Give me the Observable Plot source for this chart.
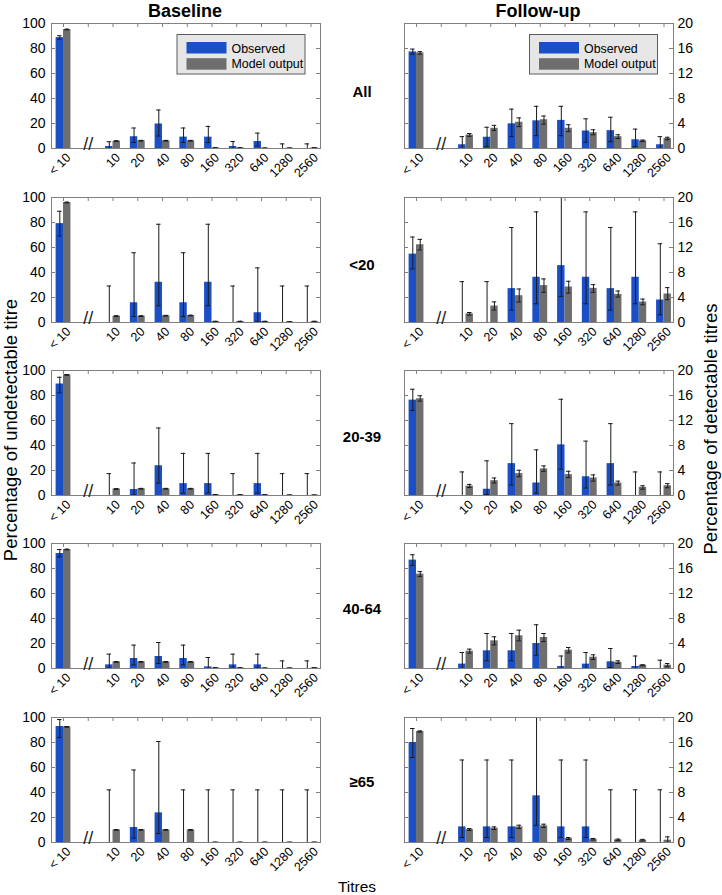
<!DOCTYPE html>
<html><head><meta charset="utf-8">
<script src="https://cdn.jsdelivr.net/npm/d3@7"></script>
<script src="https://cdn.jsdelivr.net/npm/@observablehq/plot@0.6"></script>
<style>
body{margin:0;background:#fff;}
#fig{position:relative;width:722px;height:895px;overflow:hidden;background:#fff;font-family:"Liberation Sans",Arial,sans-serif;}
</style></head><body><div id="fig"></div><script>
// ---------- data ----------
const titres = ["10","20","40","80","160","320","640","1280","2560"];
const undetLabel = "< 10";
const groups = ["All","<20","20-39","40-64","\u226565"];
const periods = ["Baseline","Follow-up"];
const legendLabels = ["Observed","Model output"];
const yTicksBaseline = [0,20,40,60,80,100];
const yTicksFollowup = [0,4,8,12,16,20];
const leftAxisTitle = "Percentage of undetectable titre";
const rightAxisTitle = "Percentage of detectable titres";
const xAxisTitle = "Titres";

// Baseline (%): [<10, 10, 20, 40, 80, 160, 320, 640, 1280, 2560], rows = groups
const baselineObs = [
 [88.7, 1.6, 9.4, 19.6, 9.1, 9.1, 1.6, 5.6, 0, 0],
 [79.1, 0, 15.8, 32.2, 15.8, 32.2, 0, 7.8, 0, 0],
 [89.2, 0, 4.8, 23.8, 9.5, 9.5, 0, 9.5, 0, 0],
 [92.0, 2.9, 8.0, 9.6, 8.0, 1.3, 2.9, 2.9, 0, 0],
 [92.8, 0, 12.0, 23.7, 0, 0, 0, 0, 0, 0]
];
const baselineObsLo = [
 [87.5, 0, 4.8, 10.0, 4.8, 4.8, 0, 2.0, 0, 0],
 [69.2, 0, 4.8, 13.4, 4.8, 13.4, 0, 1.0, 0, 0],
 [82.2, 0, 0.5, 10.0, 2.0, 2.0, 0, 2.0, 0, 0],
 [89.3, 0.3, 2.9, 4.0, 2.9, 0, 0.3, 0.3, 0, 0],
 [84.0, 0, 3.5, 7.2, 0, 0, 0, 0, 0, 0]
];
const baselineObsHi = [
 [90.2, 5.4, 16.4, 30.8, 16.4, 17.7, 5.6, 12.3, 3.7, 3.7],
 [89.0, 29.2, 55.8, 78.6, 55.8, 78.6, 29.2, 43.7, 29.2, 29.2],
 [94.6, 17.5, 26.0, 54.0, 33.7, 33.7, 17.5, 33.7, 17.5, 17.5],
 [95.2, 11.5, 18.7, 20.8, 18.7, 8.8, 11.5, 11.5, 6.1, 6.1],
 [98.4, 42.1, 58.0, 80.8, 42.1, 42.1, 42.1, 42.1, 42.1, 42.1]
];
const baselineMod = [
 [95.2, 5.9, 6.2, 6.2, 6.2, 0.5, 0.5, 0.3, 0.3, 0.5],
 [96.0, 5.1, 5.1, 5.4, 5.6, 0.8, 0.8, 0.8, 0.5, 0.8],
 [96.5, 5.2, 5.4, 5.4, 5.4, 0.6, 0.5, 0.5, 0.3, 0.3],
 [95.2, 5.3, 5.3, 5.3, 5.3, 0.5, 0.5, 0.3, 0.3, 0.5],
 [92.5, 10.1, 10.1, 10.1, 10.1, 0.2, 0.2, 0.2, 0.2, 0.2]
];
const baselineModLo = [
 [94.9, 5.6, 5.9, 5.9, 5.9, 0.3, 0.3, 0.1, 0.1, 0.3],
 [95.7, 4.8, 4.8, 5.1, 5.3, 0.6, 0.6, 0.6, 0.3, 0.6],
 [96.2, 4.9, 5.1, 5.1, 5.1, 0.4, 0.3, 0.3, 0.1, 0.1],
 [94.9, 5.0, 5.0, 5.0, 5.0, 0.3, 0.3, 0.1, 0.1, 0.3],
 [92.2, 9.8, 9.8, 9.8, 9.8, 0.1, 0.1, 0.1, 0.1, 0.1]
];
const baselineModHi = [
 [95.5, 6.2, 6.5, 6.5, 6.5, 0.7, 0.7, 0.5, 0.5, 0.7],
 [96.3, 5.4, 5.4, 5.7, 5.9, 1.0, 1.0, 1.0, 0.7, 1.0],
 [96.8, 5.5, 5.7, 5.7, 5.7, 0.8, 0.7, 0.7, 0.5, 0.5],
 [95.5, 5.6, 5.6, 5.6, 5.6, 0.7, 0.7, 0.5, 0.5, 0.7],
 [92.8, 10.4, 10.4, 10.4, 10.4, 0.3, 0.3, 0.3, 0.3, 0.3]
];

// Follow-up: first value = % undetectable (0–100), others = % detectable (0–20 axis)
const followupObs = [
 [77.3, 0.6, 1.8, 3.95, 4.43, 4.5, 2.8, 2.86, 1.4, 0.6],
 [54.7, 0, 0, 5.42, 7.24, 9.1, 7.24, 5.42, 7.24, 3.6],
 [76.3, 0, 1.0, 5.1, 2.0, 8.1, 3.0, 5.1, 0, 0],
 [86.7, 0.7, 2.83, 2.83, 4.0, 0.32, 0.7, 1.07, 0.32, 0],
 [80.0, 2.5, 2.5, 2.5, 7.47, 2.5, 2.5, 0, 0, 0]
];
const followupObsLo = [
 [75.5, 0, 0.3, 1.9, 2.05, 2.05, 1.0, 1.1, 0.3, 0],
 [42.9, 0, 0, 1.98, 3.0, 4.18, 3.0, 1.98, 3.0, 1.23],
 [68.0, 0, 0.16, 1.67, 0.4, 4.2, 1.2, 1.67, 0, 0],
 [82.5, 0, 1.23, 1.23, 2.13, 0, 0, 0.16, 0, 0],
 [68.0, 0.8, 0.8, 0.8, 2.77, 0.8, 0.8, 0, 0, 0]
];
const followupObsHi = [
 [79.5, 1.9, 3.4, 6.3, 6.75, 6.75, 4.75, 5.0, 3.1, 1.9],
 [68.4, 6.54, 6.54, 15.2, 17.7, 21, 17.7, 15.2, 17.7, 12.6],
 [85.0, 3.77, 5.55, 11.5, 7.3, 15.4, 8.7, 11.5, 3.77, 3.77],
 [91.0, 2.56, 5.6, 5.6, 7.0, 2.0, 2.56, 3.2, 2.0, 1.33],
 [91.2, 13.2, 13.2, 13.2, 21, 13.2, 13.2, 8.43, 8.43, 8.43]
];
const followupMod = [
 [76.5, 2.16, 3.24, 4.2, 4.6, 3.24, 2.54, 1.9, 1.24, 1.6],
 [62.2, 1.39, 2.63, 4.29, 5.9, 5.68, 5.47, 4.5, 3.27, 4.56],
 [77.4, 1.5, 2.37, 3.5, 4.26, 3.34, 2.8, 2.0, 1.3, 1.56],
 [75.5, 2.77, 4.43, 5.23, 4.96, 2.93, 1.81, 1.0, 0.53, 0.53],
 [88.8, 2.08, 2.29, 2.5, 2.67, 0.64, 0.53, 0.43, 0.37, 0.37]
];
const followupModLo = [
 [75.5, 1.95, 2.9, 3.5, 3.9, 2.7, 2.2, 1.6, 1.1, 1.4],
 [58.0, 1.18, 2.0, 3.27, 4.83, 4.7, 4.83, 4.07, 2.84, 3.65],
 [75.5, 1.29, 2.0, 3.0, 3.88, 2.86, 2.3, 1.67, 1.0, 1.24],
 [73.5, 2.45, 3.79, 4.43, 4.3, 2.5, 1.44, 0.8, 0.45, 0.27],
 [88.3, 1.92, 2.08, 2.24, 2.4, 0.48, 0.4, 0.3, 0.25, 0]
];
const followupModHi = [
 [77.5, 2.4, 3.7, 4.9, 5.2, 3.8, 3.0, 2.2, 1.35, 1.8],
 [66.5, 1.6, 3.3, 5.36, 6.97, 6.6, 6.06, 5.04, 3.75, 5.58],
 [79.8, 1.78, 2.8, 4.04, 4.74, 3.88, 3.3, 2.3, 1.56, 1.9],
 [77.5, 3.1, 5.07, 6.13, 5.6, 3.36, 2.19, 1.23, 0.6, 0.8],
 [89.3, 2.24, 2.5, 2.77, 2.93, 0.8, 0.65, 0.55, 0.5, 0.9]
];

// ---------- styles / layout ----------
const FONT = "'Liberation Sans', Arial, sans-serif";
const BLUE = "#1b4fc6", GREY = "#6e6e6e", ERR = "#1a1a1a", FRAME = "#808080";
const GAP = "gap";
const cats = [undetLabel, ...titres];
const xDomain = [undetLabel, GAP, ...titres];
const FRAME_W = 269, FRAME_H = 125, M_TOP = 5, M_BOTTOM = 45;
const rowTops = [23, 197, 370, 543, 717];
const PAD_IN = 0.4, PAD_OUT = 0.1345, ALIGN = 0.69;
const step = FRAME_W / (xDomain.length - PAD_IN + 2 * PAD_OUT);
const bw = step * (1 - PAD_IN);
const CAP = 4.5;
const fig = document.getElementById("fig");

function panel(p, g) {
  const base = p === 0;
  const obs = base ? baselineObs : followupObs;
  const obsLo = base ? baselineObsLo : followupObsLo;
  const obsHi = base ? baselineObsHi : followupObsHi;
  const mod = base ? baselineMod : followupMod;
  const modLo = base ? baselineModLo : followupModLo;
  const modHi = base ? baselineModHi : followupModHi;
  const yTicks = base ? yTicksBaseline : yTicksFollowup;
  const yMax = yTicks[yTicks.length - 1];
  // undetectable share is a 0–100 value; on follow-up panels it is drawn against the 0–20 axis
  const k0 = 100 / yMax;
  const rows = cats.map((c, i) => {
    const k = i === 0 ? k0 : 1;
    return {cat: c, obs: obs[g][i] / k, obsLo: obsLo[g][i] / k, obsHi: obsHi[g][i] / k,
            mod: mod[g][i] / k, modLo: modLo[g][i] / k, modHi: modHi[g][i] / k};
  });
  const ml = base ? 51 : 24, mr = base ? 20 : 49;
  const capInset = (bw - CAP) / 2;
  const err = (key, dx) => [
    Plot.ruleX(rows, {x: "cat", y1: key + "Lo", y2: key + "Hi", dx, stroke: ERR, strokeWidth: 1, clip: true}),
    Plot.tickY(rows, {x: "cat", y: key + "Hi", dx, insetLeft: capInset, insetRight: capInset, stroke: ERR, strokeWidth: 1, clip: true}),
    Plot.tickY(rows, {x: "cat", y: key + "Lo", dx, insetLeft: capInset, insetRight: capInset, stroke: ERR, strokeWidth: 1, clip: true})
  ];
  const svg = Plot.plot({
    width: ml + FRAME_W + mr,
    height: M_TOP + FRAME_H + M_BOTTOM,
    marginTop: M_TOP, marginBottom: M_BOTTOM, marginLeft: ml, marginRight: mr,
    x: {type: "band", domain: xDomain, paddingInner: PAD_IN, paddingOuter: PAD_OUT, align: ALIGN, round: false},
    y: {domain: [0, yMax]},
    style: {fontFamily: FONT, color: "#000", background: "none", overflow: "visible"},
    marks: [
      Plot.barY(rows, {x: "cat", y: "obs", fill: BLUE, insetRight: bw / 2}),
      Plot.barY(rows, {x: "cat", y: "mod", fill: GREY, insetLeft: bw / 2}),
      ...err("obs", -bw / 4),
      ...err("mod", bw / 4),
      Plot.tickY(yTicks, {y: d => d, insetRight: FRAME_W - 4, stroke: FRAME}),
      Plot.tickY(yTicks, {y: d => d, insetLeft: FRAME_W - 4, stroke: FRAME}),
      Plot.tickX(xDomain, {x: d => d, insetBottom: FRAME_H - 4, stroke: FRAME}),
      Plot.frame({stroke: FRAME}),
      Plot.text([GAP], {x: d => d, frameAnchor: "bottom", text: () => "//", fontSize: 18, dy: 1, fill: "#222"}),
      Plot.axisX({tickRotate: -45, tickSize: 0, tickPadding: 7, dx: 5, fontSize: 12.5, label: null,
                  tickFormat: d => d === GAP ? "" : d}),
      Plot.axisY(yTicks, {anchor: base ? "left" : "right", tickSize: 0, tickPadding: base ? 6 : 4,
                  fontSize: 14, label: null})
    ]
  });
  svg.style.position = "absolute";
  svg.style.left = (base ? 0 : 380) + "px";
  svg.style.top = (rowTops[g] - M_TOP) + "px";
  fig.appendChild(svg);
}

periods.forEach((_, p) => groups.forEach((_, g) => panel(p, g)));

// ---------- text overlay ----------
const ov = d3.select(fig).append("svg")
  .attr("width", 722).attr("height", 895)
  .style("position", "absolute").style("left", "0px").style("top", "0px")
  .style("font-family", FONT);

const titleX = [185, 538];
periods.forEach((t, i) => ov.append("text").attr("x", titleX[i]).attr("y", 17)
  .attr("text-anchor", "middle").attr("font-weight", "bold").attr("font-size", 18).text(t));

const rowBase = [97, 270, 442, 614, 787];
groups.forEach((t, i) => ov.append("text").attr("x", 362).attr("y", rowBase[i])
  .attr("text-anchor", "middle").attr("font-weight", "bold").attr("font-size", 15).text(t));

ov.append("text").attr("transform", "translate(17,430) rotate(-90)")
  .attr("text-anchor", "middle").attr("font-size", 18.5).text(leftAxisTitle);
ov.append("text").attr("transform", "translate(717,429) rotate(-90)")
  .attr("text-anchor", "middle").attr("font-size", 18.5).text(rightAxisTitle);
ov.append("text").attr("x", 357).attr("y", 892)
  .attr("text-anchor", "middle").attr("font-size", 15.5).text(xAxisTitle);

// legends (top row only)
const legendX = [177, 529.5];
const legendColors = [BLUE, GREY];
legendX.forEach(lx => {
  const lg = ov.append("g").attr("transform", `translate(${lx},34.5)`);
  lg.append("rect").attr("width", 128).attr("height", 39.5).attr("fill", "#e6e6e6").attr("stroke", "#5c5c5c");
  legendLabels.forEach((lab, i) => {
    lg.append("rect").attr("x", 9.5).attr("y", 7.5 + i * 16.2).attr("width", 40).attr("height", 11.5).attr("fill", legendColors[i]);
    lg.append("text").attr("x", 54.5).attr("y", 18 + i * 15.2).attr("font-size", 12.4).text(lab);
  });
});
</script></body></html>
